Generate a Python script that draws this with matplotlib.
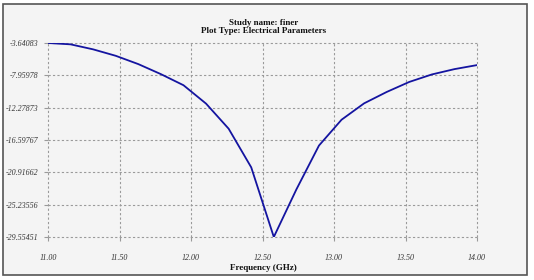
import matplotlib
matplotlib.use("Agg")
import matplotlib.pyplot as plt
from matplotlib.patches import Rectangle
import numpy as np

# 20 sweep points, 11 - 14 GHz
freq_start = 11.0
freq_stop = 14.0
n_points = 20
s11_db = [-3.64083, -3.82, -4.49, -5.35, -6.46, -7.80, -9.28, -11.74, -15.09,
          -20.25, -29.55451, -23.2, -17.34, -13.89, -11.70, -10.18, -8.84,
          -7.84, -7.13, -6.59]
x_ticks = [11.0, 11.5, 12.0, 12.5, 13.0, 13.5, 14.0]
y_ticks = [-3.64083, -7.95978, -12.27873, -16.59767, -20.91662, -25.23556, -29.55451]

freq = np.linspace(freq_start, freq_stop, n_points)

C_LINE = "#1414a0"
C_GRID = "#9a9a9a"
C_BG = "#f4f4f4"
SERIF = ["Liberation Serif", "DejaVu Serif"]

fig = plt.figure(figsize=(5.34, 2.80), dpi=100)
fig.patch.set_facecolor("white")
# panel with dark border
fig.patches.append(Rectangle((0.006, 0.018), 0.98, 0.968, transform=fig.transFigure,
                             facecolor=C_BG, edgecolor="#555555", lw=1.2, zorder=-1))

ax = fig.add_axes([0.0899, 0.1536, 0.8034, 0.6928])
ax.set_zorder(1)
ax.set_facecolor(C_BG)
ax.plot(freq, s11_db, color=C_LINE, lw=1.3, zorder=3)

ax.set_xlim(freq_start, freq_stop)
ax.set_ylim(min(y_ticks), max(y_ticks))
ax.set_xticks(x_ticks)
ax.set_xticklabels([f"{v:.2f}" for v in x_ticks])
ax.set_yticks(y_ticks)
ax.set_yticklabels([f"{v:.5f}" for v in y_ticks])

for s in ax.spines.values():
    s.set_visible(False)
ax.grid(True, color=C_GRID, lw=0.8, linestyle=(0, (2, 2)))
for gl in ax.get_xgridlines() + ax.get_ygridlines():
    gl.set_clip_on(False)
ax.tick_params(length=3, width=0.8, color=C_GRID, labelsize=5.8,
               labelcolor="#333333", pad=4)
for lab in ax.get_xticklabels() + ax.get_yticklabels():
    lab.set_fontstyle("italic")
    lab.set_family(SERIF)
ax.tick_params(axis="x", pad=9)

fig.text(0.493, 0.919, "Study name: finer", ha="center", va="center",
         fontsize=6.5, fontweight="bold", family=SERIF, color="#111111")
fig.text(0.493, 0.889, "Plot Type: Electrical Parameters", ha="center", va="center",
         fontsize=6.5, fontweight="bold", family=SERIF, color="#111111")
fig.text(0.493, 0.043, "Frequency (GHz)", ha="center", va="center",
         fontsize=6.5, fontweight="bold", family=SERIF, color="#111111")

fig.savefig("out.png", dpi=100, facecolor=fig.get_facecolor())
